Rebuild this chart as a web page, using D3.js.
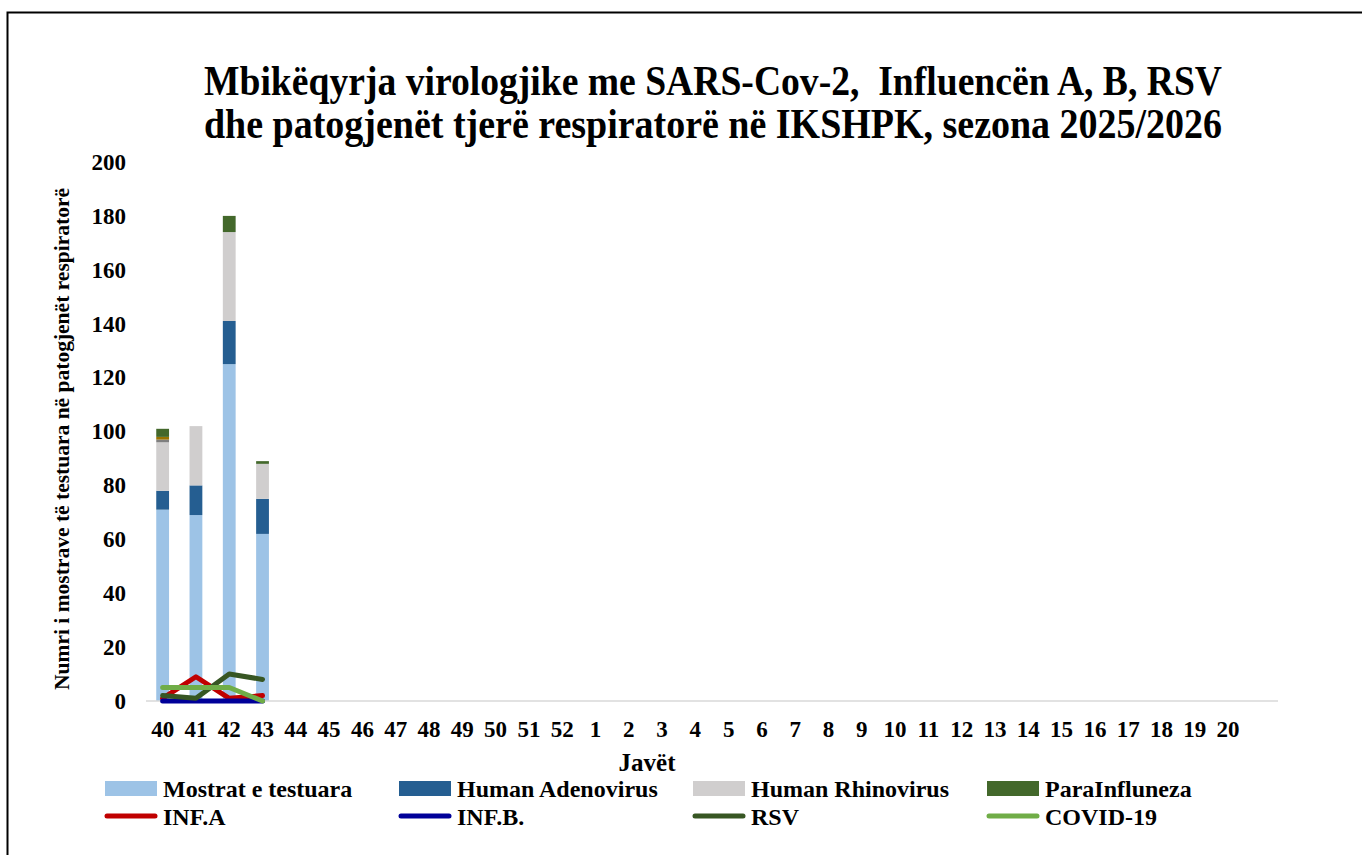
<!DOCTYPE html>
<html>
<head>
<meta charset="utf-8">
<script src="https://cdn.jsdelivr.net/npm/d3@7"></script>
<style>
  body { margin: 0; background: #fff; }
  text { font-family: "Liberation Serif", "Times New Roman", serif; font-weight: bold; fill: #000; }
</style>
</head>
<body>
<svg></svg>
<script>
// weeks of the season (last slot is an empty category)
var weeks = ["40","41","42","43","44","45","46","47","48","49","50","51","52",
             "1","2","3","4","5","6","7","8","9","10","11","12","13","14","15","16","17","18","19","20",""];

// stacked bar series (only first 4 weeks have data)
var mostrat    = [71, 69, 125, 62];
var adenovirus = [7, 11, 16, 13];
var rhinovirus = [18, 22, 33, 13];
var tjeterGri  = [1, 0, 0, 0];
var tjeterAri  = [1, 0, 0, 0];
var paraInfl   = [3, 0, 6, 1];

// line series
var infA  = [1, 9, 1, 2];
var infB  = [0, 0, 0, 0];
var rsv   = [2, 1, 10, 8];
var covid = [5, 5, 5, 0];

var yTicks = [0, 20, 40, 60, 80, 100, 120, 140, 160, 180, 200];

var barKeys   = ["mostrat", "adeno", "rhino", "gri", "ari", "para"];
var barColors = ["#9DC3E6", "#255E91", "#D0CECE", "#7F7F7F", "#997300", "#43682B"];

var screen = { width: 1362, height: 855 };
var margins = { top: 162, left: 146, right: 84, bottom: 154 };
var width = screen.width - margins.left - margins.right;
var height = screen.height - margins.top - margins.bottom;

var svg = d3.select("svg")
  .attr("width", screen.width)
  .attr("height", screen.height);

// outer frame
svg.append("rect")
  .attr("x", 7.5).attr("y", 12.5)
  .attr("width", 1400).attr("height", 900)
  .attr("fill", "none")
  .attr("stroke", "#000")
  .attr("stroke-width", 2);

var xScale = d3.scaleBand()
  .domain(d3.range(weeks.length))
  .range([0, width]);

var yScale = d3.scaleLinear()
  .domain([0, 200])
  .range([height, 0]);

var plot = svg.append("g")
  .attr("transform", "translate(" + margins.left + "," + margins.top + ")");

// table for stacking
var table = mostrat.map(function(d, i) {
  return { i: i, mostrat: mostrat[i], adeno: adenovirus[i], rhino: rhinovirus[i],
           gri: tjeterGri[i], ari: tjeterAri[i], para: paraInfl[i] };
});
var stacked = d3.stack().keys(barKeys)(table);

var barW = 12.8;
plot.selectAll("g.layer")
  .data(stacked)
  .enter()
  .append("g")
  .attr("class", "layer")
  .attr("fill", function(d, i) { return barColors[i]; })
  .selectAll("rect")
  .data(function(d) { return d; })
  .enter()
  .append("rect")
  .attr("x", function(d) { return xScale(d.data.i) + xScale.bandwidth() / 2 - barW / 2; })
  .attr("y", function(d) { return yScale(d[1]); })
  .attr("width", barW)
  .attr("height", function(d) { return yScale(d[0]) - yScale(d[1]); });

// zero axis line
plot.append("line")
  .attr("x1", 0).attr("x2", width)
  .attr("y1", yScale(0)).attr("y2", yScale(0))
  .attr("stroke", "#D9D9D9")
  .attr("stroke-width", 1.5);

// y axis
var yAxis = d3.axisLeft(yScale).tickValues(yTicks).tickSize(0).tickPadding(20);
var yg = plot.append("g").call(yAxis);
yg.select(".domain").remove();
yg.selectAll("text").style("font-size", "23px").attr("fill", "#000");

// x axis
var xAxis = d3.axisBottom(xScale).tickSize(0).tickPadding(20)
  .tickFormat(function(i) { return weeks[i]; });
var xg = plot.append("g").attr("transform", "translate(0," + height + ")").call(xAxis);
xg.select(".domain").remove();
xg.selectAll("text").style("font-size", "23px").attr("fill", "#000");

// lines
var lineSeries = [
  { name: "INF.A", values: infA, color: "#C00000" },
  { name: "INF.B.", values: infB, color: "#000099" },
  { name: "RSV", values: rsv, color: "#375623" },
  { name: "COVID-19", values: covid, color: "#70AD47" }
];
var line = d3.line()
  .x(function(d, i) { return xScale(i) + xScale.bandwidth() / 2; })
  .y(function(d) { return yScale(d); });

plot.selectAll("path.series")
  .data(lineSeries)
  .enter()
  .append("path")
  .attr("class", "series")
  .attr("d", function(d) { return line(d.values); })
  .attr("fill", "none")
  .attr("stroke", function(d) { return d.color; })
  .attr("stroke-width", 5)
  .attr("stroke-linecap", "round")
  .attr("stroke-linejoin", "round");

// titles
var title = svg.append("g");
title.append("text")
  .attr("x", 713).attr("y", 95)
  .attr("text-anchor", "middle")
  .attr("textLength", 1018).attr("lengthAdjust", "spacingAndGlyphs")
  .style("font-size", "42px")
  .style("white-space", "pre")
  .text("Mbikëqyrja virologjike me SARS-Cov-2,  Influencën A, B, RSV");
title.append("text")
  .attr("x", 713).attr("y", 138)
  .attr("text-anchor", "middle")
  .attr("textLength", 1018).attr("lengthAdjust", "spacingAndGlyphs")
  .style("font-size", "42px")
  .text("dhe patogjenët tjerë respiratorë në IKSHPK, sezona 2025/2026");

svg.append("text")
  .attr("transform", "translate(69,439) rotate(-90)")
  .attr("text-anchor", "middle")
  .attr("textLength", 502).attr("lengthAdjust", "spacingAndGlyphs")
  .style("font-size", "20px")
  .text("Numri i mostrave të testuara në patogjenët respiratorë");

svg.append("text")
  .attr("x", 647).attr("y", 771)
  .attr("text-anchor", "middle")
  .style("font-size", "25px")
  .text("Javët");

// legend
var legendBars = [
  { name: "Mostrat e testuara", color: barColors[0] },
  { name: "Human Adenovirus", color: barColors[1] },
  { name: "Human Rhinovirus", color: barColors[2] },
  { name: "ParaInfluneza", color: barColors[5] }
];
var colX = [105, 399, 693, 987];

var legend = svg.append("g").classed("legend", true);
var lb = legend.selectAll("g.lb")
  .data(legendBars)
  .enter()
  .append("g")
  .attr("class", "lb")
  .attr("transform", function(d, i) { return "translate(" + colX[i] + ",781)"; });
lb.append("rect")
  .attr("width", 52).attr("height", 15)
  .attr("fill", function(d) { return d.color; });
lb.append("text")
  .attr("x", 58).attr("y", 16)
  .style("font-size", "24px")
  .text(function(d) { return d.name; });

var ll = legend.selectAll("g.ll")
  .data(lineSeries)
  .enter()
  .append("g")
  .attr("class", "ll")
  .attr("transform", function(d, i) { return "translate(" + colX[i] + ",816)"; });
ll.append("line")
  .attr("x1", 2).attr("x2", 50)
  .attr("stroke", function(d) { return d.color; })
  .attr("stroke-width", 5)
  .attr("stroke-linecap", "round");
ll.append("text")
  .attr("x", 58).attr("y", 9)
  .style("font-size", "24px")
  .text(function(d) { return d.name; });
</script>
</body>
</html>
